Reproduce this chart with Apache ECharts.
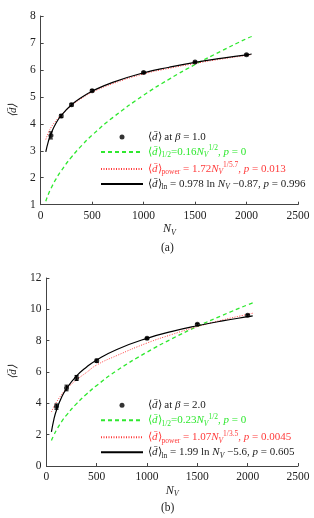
<!DOCTYPE html>
<html>
<head>
<meta charset="utf-8">
<script src="https://cdn.jsdelivr.net/npm/echarts@6/dist/echarts.min.js"></script>
<style>html,body{margin:0;padding:0;background:#fff;}#c{width:314px;height:518px;}</style>
</head>
<body>
<div id="c"></div>
<script>
// ---- data ----
const pointN = [100, 200, 300, 500, 1000, 1500, 2000];
const ptsA = [3.57, 4.29, 4.71, 5.23, 5.90, 6.29, 6.56];
const errA = [0.13, 0.06, 0.05, 0.04, 0.03, 0.03, 0.03];
const ptsB = [3.79, 4.98, 5.62, 6.72, 8.15, 9.04, 9.62];
const errB = [0.17, 0.18, 0.16, 0.10, 0.06, 0.06, 0.06];

const curveN = [50, 75, 100, 150, 200, 300, 400, 500, 700, 1000, 1250, 1500, 1750, 2000, 2050];
const halfA  = [1.13, 1.39, 1.60, 1.96, 2.26, 2.77, 3.20, 3.58, 4.23, 5.06, 5.66, 6.20, 6.69, 7.16, 7.24];
const powA   = [3.42, 3.67, 3.86, 4.12, 4.33, 4.68, 4.95, 5.17, 5.49, 5.85, 6.06, 6.24, 6.40, 6.54, 6.57];
const lnA    = [2.96, 3.35, 3.63, 4.03, 4.31, 4.71, 4.99, 5.21, 5.54, 5.89, 6.10, 6.28, 6.43, 6.56, 6.59];
const halfB  = [1.63, 1.99, 2.30, 2.82, 3.25, 3.98, 4.60, 5.14, 6.09, 7.27, 8.13, 8.91, 9.62, 10.29, 10.41];
const powB   = [3.45, 3.80, 4.08, 4.55, 4.93, 5.50, 5.98, 6.45, 7.05, 7.85, 8.40, 8.90, 9.32, 9.68, 9.75];
const lnB    = [2.18, 2.99, 3.56, 4.37, 4.94, 5.75, 6.32, 6.77, 7.44, 8.15, 8.59, 8.95, 9.26, 9.53, 9.58];

const xTicks = [0, 500, 1000, 1500, 2000, 2500];
const yRangeA = [1, 8, 1];
const yRangeB = [0, 12, 2];

// ---- styling ----
const SERIF = 'Liberation Serif';
const GREEN = '#2fe82f';
const RED = '#ff3a3a';
const zip = (xs, ys) => xs.map((x, i) => [x, ys[i]]);
const errData = (xs, ys, es) => xs.map((x, i) => [x, ys[i] - es[i], ys[i] + es[i]]);

const rich = {
  m: {fontFamily: SERIF, fontSize: 11, lineHeight: 15, verticalAlign: 'middle'},
  i: {fontFamily: SERIF, fontSize: 11, fontStyle: 'italic', lineHeight: 15, verticalAlign: 'middle'},
  s: {fontFamily: SERIF, fontSize: 7.5, lineHeight: 7, verticalAlign: 'bottom'},
  si: {fontFamily: SERIF, fontSize: 7.5, fontStyle: 'italic', lineHeight: 7, verticalAlign: 'bottom'},
  u: {fontFamily: SERIF, fontSize: 7.5, lineHeight: 7, verticalAlign: 'top'}
};
const D = '{m|⟨}{i|d̄}{m|⟩}';
const labels = {
  'ptsA': D + '{m| at }{i|β}{m| = 1.0}',
  'halfA': D + '{s|1/2}{m|=0.16}{i|N}{si|V}{u|1/2}{m|, }{i|p}{m| = 0}',
  'powA': D + '{s|power}{m| = 1.72}{i|N}{si|V}{u|1/5.7}{m|, }{i|p}{m| = 0.013}',
  'lnA': D + '{s|ln}{m| = 0.978 ln }{i|N}{si|V}{m| −0.87, }{i|p}{m| = 0.996}',
  'ptsB': D + '{m| at }{i|β}{m| = 2.0}',
  'halfB': D + '{s|1/2}{m|=0.23}{i|N}{si|V}{u|1/2}{m|, }{i|p}{m| = 0}',
  'powB': D + '{s|power}{m| = 1.07}{i|N}{si|V}{u|1/3.5}{m|, }{i|p}{m| = 0.0045}',
  'lnB': D + '{s|ln}{m| = 1.99 ln }{i|N}{si|V}{m| −5.6, }{i|p}{m| = 0.605}'
};

function errSeries(name, xi, data) {
  return {
    name: name, type: 'custom', xAxisIndex: xi, yAxisIndex: xi, data: data, z: 5,
    renderItem: function (params, api) {
      const x = api.value(0), lo = api.value(1), hi = api.value(2);
      const p1 = api.coord([x, lo]), p2 = api.coord([x, hi]);
      const w = 2;
      const st = {stroke: '#000', lineWidth: 1};
      return {type: 'group', children: [
        {type: 'line', shape: {x1: p1[0], y1: p1[1], x2: p2[0], y2: p2[1]}, style: st},
        {type: 'line', shape: {x1: p1[0] - w, y1: p1[1], x2: p1[0] + w, y2: p1[1]}, style: st},
        {type: 'line', shape: {x1: p2[0] - w, y1: p2[1], x2: p2[0] + w, y2: p2[1]}, style: st}
      ]};
    }
  };
}
function lineSeries(name, idx, data, color, type, width) {
  return {
    name: name, type: 'line', xAxisIndex: idx, yAxisIndex: idx, data: data,
    symbol: 'none', smooth: true, z: type === 'solid' ? 4 : 3,
    lineStyle: {color: color, width: width, type: type}, itemStyle: {color: color}
  };
}
function xAxis(idx) {
  return {
    type: 'value', gridIndex: idx, min: xTicks[0], max: xTicks[xTicks.length - 1], interval: 500,
    splitLine: {show: false},
    axisLine: {lineStyle: {color: '#444', width: 1}},
    axisTick: {inside: true, length: 3, lineStyle: {color: '#444'}},
    axisLabel: {fontFamily: SERIF, fontSize: 11.5, color: '#222', margin: 5, formatter: v => String(v)},
    name: '{i|N}{si|V}', nameLocation: 'middle', nameGap: 17,
    nameTextStyle: {color: '#222', rich: {
      i: {fontFamily: SERIF, fontSize: 12, fontStyle: 'italic', lineHeight: 15, verticalAlign: 'middle'},
      si: {fontFamily: SERIF, fontSize: 8, fontStyle: 'italic', lineHeight: 7, verticalAlign: 'bottom'}
    }}
  };
}
function yAxis(idx, r) {
  return {
    type: 'value', gridIndex: idx, min: r[0], max: r[1], interval: r[2],
    splitLine: {show: false},
    axisLine: {show: true, lineStyle: {color: '#444', width: 1}},
    axisTick: {show: true, inside: true, length: 3, lineStyle: {color: '#444'}},
    axisLabel: {fontFamily: SERIF, fontSize: 11.5, color: '#222', margin: 5, formatter: v => String(v)},
    name: '⟨d̄⟩', nameLocation: 'middle', nameGap: 15, nameRotate: 90,
    nameTextStyle: {fontFamily: SERIF, fontSize: 11, color: '#222', fontStyle: 'italic'}
  };
}
function legend(top, names, colors) {
  return {
    orient: 'vertical', left: 95, top: top, itemWidth: 42, itemHeight: 5, itemGap: 2,
    data: names.map((n, i) => i === 0
      ? {name: n, textStyle: {color: colors[i]}}
      : {name: n, textStyle: {color: colors[i]}, itemStyle: {opacity: 0}}),
    formatter: n => labels[n],
    textStyle: {rich: rich},
    selectedMode: false
  };
}

const chart = echarts.init(document.getElementById('c'), null, {renderer: 'canvas'});
chart.setOption({
  animation: false,
  backgroundColor: '#fff',
  grid: [
    {left: 38, right: 16, top: 16, height: 188.7},
    {left: 38, right: 16, top: 278, height: 188}
  ],
  xAxis: [xAxis(0), xAxis(1)],
  yAxis: [yAxis(0, yRangeA), yAxis(1, yRangeB)],
  legend: [
    legend(126.5, ['ptsA', 'halfA', 'powA', 'lnA'], ['#222', GREEN, RED, '#222']),
    legend(394.8, ['ptsB', 'halfB', 'powB', 'lnB'], ['#222', GREEN, RED, '#222'])
  ],
  graphic: [
    {type: 'text', left: 161, top: 242, style: {text: '(a)', font: '11.5px "Liberation Serif"', fill: '#222'}},
    {type: 'text', left: 161, top: 502, style: {text: '(b)', font: '11.5px "Liberation Serif"', fill: '#222'}}
  ],
  series: [
    lineSeries('halfA', 0, zip(curveN, halfA), GREEN, [4, 3], 1.3),
    lineSeries('powA', 0, zip(curveN, powA), RED, [1, 1.5], 1),
    lineSeries('lnA', 0, zip(curveN, lnA), '#000', 'solid', 1.2),
    errSeries('errA', 0, errData(pointN, ptsA, errA)),
    {name: 'ptsA', type: 'scatter', xAxisIndex: 0, yAxisIndex: 0, data: zip(pointN, ptsA),
     symbol: 'circle', symbolSize: 5, itemStyle: {color: '#000'}, z: 6},
    lineSeries('halfB', 1, zip(curveN, halfB), GREEN, [4, 3], 1.3),
    lineSeries('powB', 1, zip(curveN, powB), RED, [1, 1.5], 1),
    lineSeries('lnB', 1, zip(curveN, lnB), '#000', 'solid', 1.2),
    errSeries('errB', 1, errData(pointN, ptsB, errB)),
    {name: 'ptsB', type: 'scatter', xAxisIndex: 1, yAxisIndex: 1, data: zip(pointN, ptsB),
     symbol: 'circle', symbolSize: 5, itemStyle: {color: '#000'}, z: 6}
  ]
});
</script>
</body>
</html>
